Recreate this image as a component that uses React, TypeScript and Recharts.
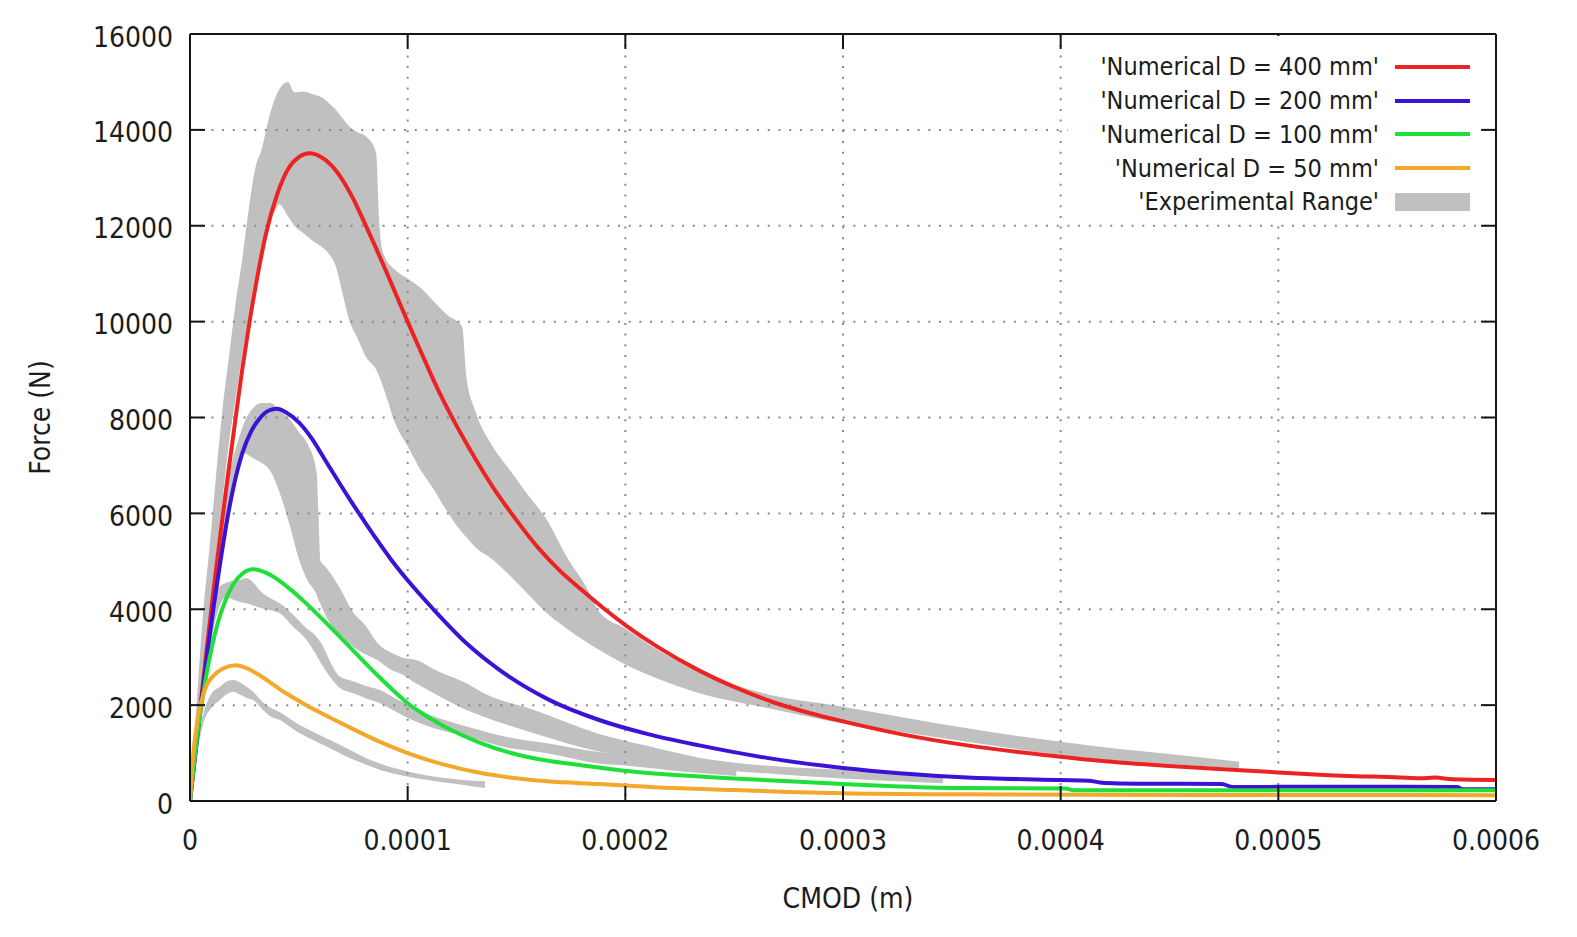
import React from 'react';
import { ComposedChart, Line, Area, XAxis, YAxis, CartesianGrid, Legend } from 'recharts';

const FONT = "'DejaVu Sans Condensed', 'DejaVu Sans', sans-serif";
const UM = 1e-6; // CMOD arrays below are in micrometres

// ---- Numerical curves (CMOD in µm, force in N) ----
const cmod400 = [0, 2, 5, 8, 11, 14, 17, 20.4, 24, 27.2, 31, 35, 40, 45, 50, 55, 60, 65, 70, 75, 80, 85, 90, 95, 100, 105, 110, 115, 121, 128, 134, 141, 148, 160, 170, 180, 190, 200, 215, 234, 250, 268, 285, 300, 326, 357, 400, 418, 450, 479, 500, 519, 556, 565, 572, 580, 600];
const force400 = [0, 830, 2070, 3290, 4470, 5580, 6650, 7800, 9000, 9950, 10950, 11850, 12650, 13180, 13430, 13510, 13440, 13260, 12960, 12560, 12080, 11580, 11060, 10530, 10000, 9480, 8970, 8480, 7950, 7380, 6920, 6420, 5980, 5280, 4800, 4400, 4020, 3670, 3210, 2720, 2380, 2060, 1830, 1660, 1400, 1160, 924, 840, 730, 650, 595, 550, 490, 475, 488, 455, 440];

const cmod200 = [0, 2, 5, 8, 11, 14, 17, 20, 24, 28, 32, 36, 40, 44, 50, 56, 62, 68, 74, 80, 86, 92, 99.5, 111.8, 127, 142, 165, 188, 210, 234, 265, 300, 326, 357, 400, 413, 418, 424, 440, 474, 479, 520, 582, 585, 600];
const force200 = [0, 800, 1980, 3100, 4100, 5000, 5850, 6550, 7250, 7700, 7980, 8140, 8180, 8110, 7900, 7560, 7120, 6680, 6250, 5840, 5440, 5060, 4630, 4000, 3290, 2740, 2110, 1690, 1400, 1160, 900, 690, 580, 490, 438, 425, 385, 370, 360, 355, 292, 298, 292, 244, 244];

const cmod100 = [0, 2, 4, 6, 8, 10, 13, 16, 20, 24, 29, 34, 40, 46, 52, 58, 64, 70, 76, 82, 88, 94, 100, 108, 118, 133, 148, 163, 179, 202, 225, 250, 275, 300, 326, 357, 402, 406, 500, 600];
const force100 = [0, 850, 1600, 2200, 2750, 3200, 3750, 4150, 4530, 4740, 4833, 4780, 4630, 4420, 4180, 3920, 3650, 3370, 3090, 2810, 2540, 2280, 2040, 1790, 1530, 1220, 995, 850, 750, 620, 535, 470, 410, 355, 305, 270, 260, 225, 225, 225];

const cmod50 = [0, 1, 2, 3.5, 5, 7.5, 10.4, 15, 21, 26, 31, 36, 41, 47, 53, 60, 67, 74, 86, 100, 115, 133, 150, 164, 188, 202, 225, 250, 275, 300, 350, 418, 500, 600];
const force50 = [0, 700, 1200, 1700, 2038, 2400, 2593, 2760, 2830, 2770, 2650, 2500, 2340, 2170, 2010, 1840, 1680, 1520, 1260, 1000, 780, 590, 475, 410, 355, 320, 265, 229, 190, 162, 140, 128, 125, 122];

// ---- Experimental ranges (CMOD in µm, lower / upper force in N) ----
const band400Cmod = [0, 3, 6, 9, 12, 15, 18, 21, 24, 27, 30, 33, 36, 39, 41, 45, 48, 52, 56, 60, 64, 67, 70, 73, 77, 81, 85.5, 87, 89, 95, 100, 106, 112, 118, 125, 127, 131, 139, 147, 155, 164, 173, 182, 188, 200, 215, 234, 263, 300, 326, 357, 400, 418, 450, 482];
const band400Low = [0, 1300, 2600, 3800, 5100, 6300, 7500, 8400, 9300, 10100, 10900, 11500, 12050, 12300, 12450, 12200, 12000, 11850, 11700, 11580, 11400, 11150, 10600, 10050, 9650, 9250, 9000, 8850, 8600, 7800, 7400, 6900, 6500, 6050, 5600, 5500, 5300, 5040, 4700, 4330, 3915, 3600, 3320, 3150, 2850, 2550, 2250, 1960, 1620, 1446, 1237, 960, 870, 770, 682];
const band400High = [0, 2000, 3900, 5300, 6800, 8200, 9300, 10400, 11300, 12350, 13200, 13600, 14200, 14650, 14850, 15000, 14780, 14800, 14750, 14690, 14550, 14420, 14250, 14080, 13950, 13860, 13520, 12000, 11400, 11050, 10900, 10700, 10420, 10150, 9900, 8850, 8150, 7400, 6900, 6400, 5860, 5100, 4470, 3950, 3600, 3150, 2700, 2253, 1967, 1759, 1516, 1237, 1133, 980, 820];

const band200Cmod = [0, 3, 6, 10, 14, 18, 22, 25, 29, 33, 37, 41, 46, 50, 54, 58.2, 59, 60, 62, 66, 70, 74, 81, 86, 93, 97, 104, 112, 127, 135, 158, 188, 210, 234, 270, 300, 330, 346];
const band200Low = [0, 1200, 2400, 3800, 5000, 6000, 6900, 7250, 7150, 7050, 6880, 6450, 5720, 5050, 4600, 4300, 4200, 4100, 3900, 3600, 3400, 3250, 3050, 2940, 2720, 2650, 2450, 2250, 1900, 1760, 1412, 1030, 900, 700, 560, 470, 400, 370];
const band200High = [0, 1300, 2600, 4400, 5700, 6800, 7500, 7900, 8200, 8300, 8300, 8150, 7950, 7700, 7450, 6850, 6000, 5000, 4900, 4650, 4350, 4000, 3640, 3300, 3080, 3000, 2940, 2750, 2455, 2250, 1898, 1400, 1150, 900, 720, 650, 540, 480];

const band100Cmod = [0, 3, 6, 10, 13.5, 16.5, 20, 23, 26, 29, 33, 37, 41.3, 47, 53.6, 56.6, 61.2, 65, 69, 75, 81, 87.3, 95, 102.6, 110, 120, 133, 142, 164, 188, 202, 225, 251];
const band100Low = [0, 1100, 2200, 3400, 4050, 4250, 4200, 4150, 4124, 4080, 4020, 3980, 3915, 3650, 3359, 3150, 2801, 2550, 2350, 2247, 2140, 2038, 1850, 1680, 1550, 1420, 1272, 1150, 995, 780, 730, 620, 520];
const band100High = [0, 1300, 2500, 3800, 4470, 4550, 4600, 4610, 4650, 4560, 4350, 4230, 4124, 3900, 3600, 3498, 3219, 2850, 2593, 2500, 2400, 2315, 2120, 1967, 1800, 1650, 1481, 1370, 1204, 1020, 960, 800, 660];

const band50Cmod = [0, 3, 6, 10, 13.8, 17, 19.9, 23, 26, 29, 33.5, 36.5, 41.3, 49, 56.6, 64.3, 72, 79.6, 87.3, 100.3, 117.9, 125, 135.5];
const band50Low = [0, 900, 1600, 1950, 2107, 2230, 2280, 2220, 2150, 2107, 1900, 1780, 1690, 1450, 1272, 1100, 924, 780, 647, 507, 382, 340, 270];
const band50High = [0, 1100, 1800, 2250, 2384, 2500, 2524, 2470, 2384, 2280, 2060, 1960, 1850, 1621, 1440, 1272, 1100, 924, 780, 611, 473, 440, 410];

// ---- Axes ----
const xTicks = [0, 0.0001, 0.0002, 0.0003, 0.0004, 0.0005, 0.0006];
const xTickLabels = ['0', '0.0001', '0.0002', '0.0003', '0.0004', '0.0005', '0.0006'];
const yTicks = [0, 2000, 4000, 6000, 8000, 10000, 12000, 14000, 16000];
const yTickLabels = ['0', '2000', '4000', '6000', '8000', '10000', '12000', '14000', '16000'];

// ---- Series styling / legend ----
const seriesNames = ["'Numerical D = 400 mm'", "'Numerical D = 200 mm'", "'Numerical D = 100 mm'", "'Numerical D = 50 mm'"];
const seriesColors = ['#ec2323', '#3b12d6', '#1fe03a', '#f2a82a'];
const bandName = "'Experimental Range'";
const bandColor = '#c0c0c0';

const toPoints = (cmod: number[], force: number[]) => cmod.map((c, i) => ({ x: c * UM, y: force[i] }));
const toBand = (cmod: number[], lo: number[], hi: number[]) =>
  cmod.map((c, i) => ({ x: c * UM, range: [lo[i], hi[i]] }));

const lines = [
  toPoints(cmod400, force400),
  toPoints(cmod200, force200),
  toPoints(cmod100, force100),
  toPoints(cmod50, force50),
];
const bands = [
  toBand(band400Cmod, band400Low, band400High),
  toBand(band200Cmod, band200Low, band200High),
  toBand(band100Cmod, band100Low, band100High),
  toBand(band50Cmod, band50Low, band50High),
];

const AXIS_COLOR = '#151515';
const TICK_LEN = 15;
const tickText = { fontFamily: FONT, fontSize: 28, fill: '#1c1c1c' } as React.CSSProperties;

const BottomTick = (p: any) => {
  const i = xTicks.indexOf(p.payload.value);
  return (
    <g>
      <line x1={p.x} x2={p.x} y1={p.y} y2={p.y - TICK_LEN} stroke={AXIS_COLOR} strokeWidth={2} />
      <text x={p.x} y={p.y + 39} textAnchor="middle" dominantBaseline="central" style={tickText}>
        {xTickLabels[i]}
      </text>
    </g>
  );
};
const TopTick = (p: any) => (
  <line x1={p.x} x2={p.x} y1={p.y} y2={p.y + TICK_LEN} stroke={AXIS_COLOR} strokeWidth={2} />
);
const LeftTick = (p: any) => {
  const i = yTicks.indexOf(p.payload.value);
  return (
    <g>
      <line x1={p.x} x2={p.x + TICK_LEN} y1={p.y} y2={p.y} stroke={AXIS_COLOR} strokeWidth={2} />
      <text x={p.x - 17} y={p.y + 3} textAnchor="end" dominantBaseline="central" style={tickText}>
        {yTickLabels[i]}
      </text>
    </g>
  );
};
const RightTick = (p: any) => (
  <line x1={p.x} x2={p.x - TICK_LEN} y1={p.y} y2={p.y} stroke={AXIS_COLOR} strokeWidth={2} />
);

const XTitle = (props: any) => {
  const vb = props.viewBox || { x: 190, y: 801, width: 1306, height: 120 };
  return (
    <text x={vb.x + vb.width / 2 + 5} y={vb.y + 97} textAnchor="middle" dominantBaseline="central" style={tickText}>
      CMOD (m)
    </text>
  );
};
const YTitle = (props: any) => {
  const vb = props.viewBox || { x: 90, y: 34, width: 100, height: 767 };
  const cx = vb.x - 50;
  const cy = vb.y + vb.height / 2;
  return (
    <text x={cx} y={cy} transform={`rotate(-90 ${cx} ${cy})`} textAnchor="middle" dominantBaseline="central" style={tickText}>
      Force (N)
    </text>
  );
};

// Key box: opaque, so the grid does not show through the entries
const LegendBox = () => {
  const row: React.CSSProperties = {
    display: 'flex', justifyContent: 'flex-end', alignItems: 'center',
    height: 33.75, paddingRight: 10,
  };
  const label: React.CSSProperties = {
    fontFamily: FONT, fontSize: 25, color: '#1c1c1c', whiteSpace: 'nowrap', marginRight: 16,
  };
  return (
    <div style={{ background: '#fff', paddingTop: 14, paddingBottom: 4 }}>
      {seriesNames.map((n, i) => (
        <div key={n} style={row}>
          <span style={label}>{n}</span>
          <div style={{ width: 75, height: 3.8, background: seriesColors[i] }} />
        </div>
      ))}
      <div style={row}>
        <span style={label}>{bandName}</span>
        <div style={{ width: 75, height: 18, background: bandColor }} />
      </div>
    </div>
  );
};

export default function App() {
  return (
    <div style={{ position: 'absolute', left: 0, top: 0, width: 1577, height: 937, background: '#fff' }}>
      <ComposedChart width={1577} height={937} margin={{ top: 24, right: 71, bottom: 16, left: 90 }}>
        <XAxis
          type="number" dataKey="x" domain={[0, 0.0006]} ticks={xTicks} interval={0}
          allowDataOverflow height={120} tickSize={0} tickMargin={0} tickLine={false}
          axisLine={{ stroke: AXIS_COLOR, strokeWidth: 2 }}
          tick={(p: any) => <BottomTick {...p} />}
          label={{ value: 'CMOD (m)', content: (p: any) => <XTitle {...p} /> }}
        />
        <XAxis
          xAxisId="top" orientation="top" type="number" dataKey="x" domain={[0, 0.0006]} ticks={xTicks}
          interval={0} allowDataOverflow height={10} tickSize={0} tickMargin={0} tickLine={false}
          axisLine={{ stroke: AXIS_COLOR, strokeWidth: 2 }}
          tick={(p: any) => <TopTick {...p} />}
        />
        <YAxis
          type="number" domain={[0, 16000]} ticks={yTicks} interval={0} allowDataOverflow
          width={100} tickSize={0} tickMargin={0} tickLine={false}
          axisLine={{ stroke: AXIS_COLOR, strokeWidth: 2 }}
          tick={(p: any) => <LeftTick {...p} />}
          label={{ value: 'Force (N)', content: (p: any) => <YTitle {...p} /> }}
        />
        <YAxis
          yAxisId="right" orientation="right" type="number" domain={[0, 16000]} ticks={yTicks}
          interval={0} allowDataOverflow width={10} tickSize={0} tickMargin={0} tickLine={false}
          axisLine={{ stroke: AXIS_COLOR, strokeWidth: 2 }}
          tick={(p: any) => <RightTick {...p} />}
        />
        {bands.map((b, i) => (
          <Area
            key={`band-${i}`} data={b} dataKey="range" type="monotone" stroke="none"
            fill={bandColor} fillOpacity={1} isAnimationActive={false} dot={false} activeDot={false}
            legendType="none"
          />
        ))}
        <CartesianGrid stroke="#8a8a8a" strokeWidth={2} strokeDasharray="2 8.7" zIndex={150} />
        {lines.map((d, i) => (
          <Line
            key={`line-${i}`} data={d} dataKey="y" type="monotone" stroke={seriesColors[i]}
            strokeWidth={4} dot={false} activeDot={false} isAnimationActive={false} name={seriesNames[i]}
          />
        ))}
        <Legend
          layout="vertical" align="center" verticalAlign="middle"
          wrapperStyle={{ top: 36, left: 1068, width: 412 }}
          content={() => <LegendBox />}
        />
      </ComposedChart>
    </div>
  );
}
